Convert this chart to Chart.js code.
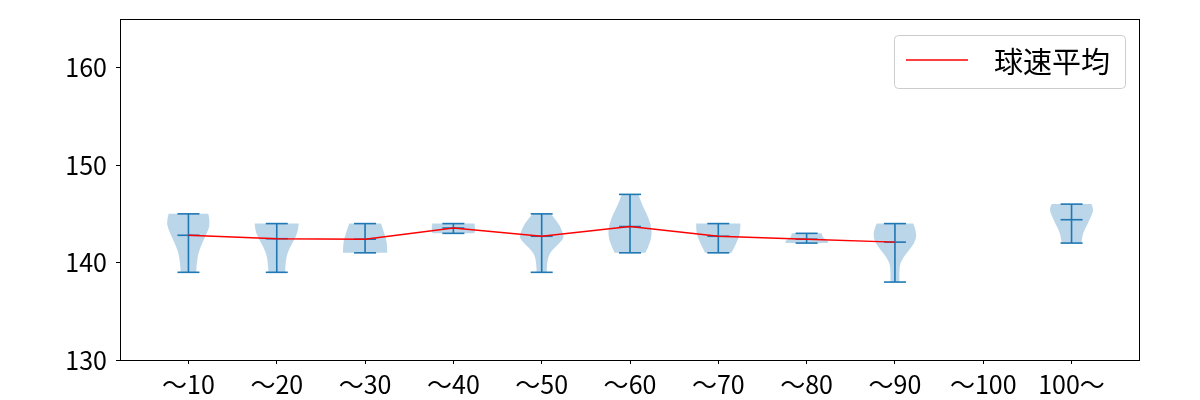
<!DOCTYPE html>
<html lang="ja">
<head>
<meta charset="utf-8">
<title>球速 violin</title>
<script src="https://cdn.jsdelivr.net/npm/chart.js"></script>
<style>
  html, body { margin: 0; padding: 0; background: #fff; }
</style>
</head>
<body>
<canvas id="chart" width="1200" height="400"></canvas>
<script>
const categories = ['～10', '～20', '～30', '～40', '～50', '～60', '～70', '～80', '～90', '～100', '100～'];
const speedMin  = [139, 139, 141, 143, 139, 141, 141, 142, 138, null, 142];
const speedMax  = [145, 144, 144, 144, 145, 147, 144, 143, 144, null, 146];
const speedMean = [142.8, 142.45, 142.4, 143.55, 142.7, 143.7, 142.7, 142.4, 142.1, null, 144.4];

// violin outline: speed levels (top to bottom) and relative half width at each level
const violinLevels = [
  [145, 144, 143, 142, 141, 140, 139],
  [144, 143, 142, 141, 140, 139],
  [144, 143, 142, 141],
  [144, 143.5, 143],
  [145, 144, 143, 142.5, 142, 141, 140, 139],
  [147, 146, 145, 144, 143, 142, 141],
  [144, 143, 142, 141],
  [143, 142.6, 142.2, 142],
  [144, 143, 142, 141, 140, 139, 138],
  [],
  [146, 145.5, 145, 144, 143, 142]
];
const violinWidths = [
  [0.9, 1.0, 0.83, 0.62, 0.45, 0.38, 0.35],
  [1.0, 0.95, 0.7, 0.48, 0.4, 0.38],
  [0.72, 0.87, 1.0, 1.0],
  [0.95, 1.0, 0.95],
  [0.41, 0.78, 0.97, 1.0, 0.8, 0.35, 0.24, 0.23],
  [0.38, 0.53, 0.76, 0.93, 1.0, 0.9, 0.7],
  [1.0, 1.0, 0.82, 0.6],
  [0.68, 0.7, 1.0, 0.95],
  [0.83, 1.0, 0.9, 0.53, 0.23, 0.2, 0.2],
  [],
  [0.9, 1.0, 0.93, 0.74, 0.5, 0.45]
];
const yTicks = [130, 140, 150, 160];

const BLUE = '#1f77b4';
const FONT = "'Noto Sans CJK JP', 'Noto Sans', sans-serif";
const HALF = 0.25; // half of violin width in x units

const positions = categories.map((c, i) => i + 1);

const rangeSegments = [];
const capPoints = [];
positions.forEach((x, i) => {
  if (speedMin[i] == null) return;
  rangeSegments.push({x, y: speedMin[i]}, {x, y: speedMax[i]}, {x, y: null});
  capPoints.push({x, y: speedMin[i]}, {x, y: speedMax[i]}, {x, y: speedMean[i]});
});
const meanLine = positions.map((x, i) => ({x, y: speedMean[i]}));

function smoothSide(ctx, pts, first) {
  if (first) ctx.moveTo(pts[0][0], pts[0][1]);
  else ctx.lineTo(pts[0][0], pts[0][1]);
  for (let k = 1; k < pts.length - 1; k++) {
    const mx = (pts[k][0] + pts[k + 1][0]) / 2;
    const my = (pts[k][1] + pts[k + 1][1]) / 2;
    ctx.quadraticCurveTo(pts[k][0], pts[k][1], mx, my);
  }
  const last = pts[pts.length - 1];
  ctx.lineTo(last[0], last[1]);
}

const violinBodies = {
  id: 'violinBodies',
  beforeDatasetsDraw(chart) {
    const {ctx, scales: {x, y}} = chart;
    ctx.save();
    ctx.fillStyle = 'rgba(31,119,180,0.3)';
    violinLevels.forEach((levels, i) => {
      if (!levels.length) return;
      const c = x.getPixelForValue(positions[i]);
      const right = levels.map((v, k) => [x.getPixelForValue(positions[i] + HALF * violinWidths[i][k]), y.getPixelForValue(v)]);
      const left = right.map(p => [2 * c - p[0], p[1]]).reverse();
      ctx.beginPath();
      smoothSide(ctx, right, true);
      smoothSide(ctx, left, false);
      ctx.closePath();
      ctx.fill();
    });
    ctx.restore();
  }
};

const frameAndLegend = {
  id: 'frameAndLegend',
  afterDraw(chart) {
    const {ctx, chartArea: a} = chart;
    ctx.save();
    ctx.strokeStyle = '#000';
    ctx.lineWidth = 1;
    ctx.strokeRect(Math.round(a.left) + 0.5, Math.round(a.top) + 0.5,
      Math.round(a.right - a.left) - 1, Math.round(a.bottom - a.top));

    const ds = chart.data.datasets[0];
    ctx.font = '29px ' + FONT;
    const tw = ctx.measureText(ds.label).width;
    const boxH = 53;
    const boxW = 12 + 62 + 26 + tw + 15;
    const boxR = a.right - 15;
    const boxT = a.top + 16;
    const boxL = boxR - boxW;
    ctx.beginPath();
    ctx.roundRect(boxL + 0.5, boxT + 0.5, boxW, boxH, 4);
    ctx.fillStyle = 'rgba(255,255,255,0.8)';
    ctx.fill();
    ctx.strokeStyle = '#cccccc';
    ctx.stroke();

    ctx.beginPath();
    ctx.moveTo(boxL + 12, boxT + 25);
    ctx.lineTo(boxL + 74, boxT + 25);
    ctx.strokeStyle = ds.borderColor;
    ctx.lineWidth = ds.borderWidth;
    ctx.stroke();

    ctx.fillStyle = '#000';
    ctx.textBaseline = 'middle';
    ctx.fillText(ds.label, boxL + 100, boxT + 27);
    ctx.restore();
  }
};

new Chart(document.getElementById('chart'), {
  type: 'line',
  data: {
    datasets: [
      {
        label: '球速平均',
        data: meanLine,
        borderColor: 'red',
        borderWidth: 1.4,
        pointRadius: 0,
        spanGaps: false,
        order: 0
      },
      {
        type: 'scatter',
        label: 'caps',
        data: capPoints,
        pointStyle: 'line',
        pointRadius: 11,
        borderColor: BLUE,
        borderWidth: 1.6,
        order: 1
      },
      {
        label: 'range',
        data: rangeSegments,
        borderColor: BLUE,
        borderWidth: 1.6,
        pointRadius: 0,
        spanGaps: false,
        order: 2
      }
    ]
  },
  options: {
    responsive: false,
    animation: false,
    devicePixelRatio: 1,
    events: [],
    layout: { padding: { left: 0, top: 19, right: 60, bottom: 0 } },
    plugins: { legend: { display: false }, tooltip: { enabled: false } },
    scales: {
      x: {
        type: 'linear',
        min: 0.225,
        max: 11.775,
        afterBuildTicks: s => { s.ticks = positions.map(v => ({value: v})); },
        afterFit: s => { s.height = 40; s.paddingLeft = 0; s.paddingRight = 0; },
        ticks: {
          callback: v => categories[Math.round(v) - 1],
          font: { family: FONT, size: 25 },
          color: '#000',
          padding: 5,
          maxRotation: 0,
          autoSkip: false
        },
        grid: { drawOnChartArea: false, color: '#000', tickLength: 4 },
        border: { display: false }
      },
      y: {
        type: 'linear',
        min: 130,
        max: 165,
        afterBuildTicks: s => { s.ticks = yTicks.map(v => ({value: v})); },
        afterFit: s => { s.width = 120; s.paddingTop = 0; s.paddingBottom = 0; },
        ticks: {
          font: { family: FONT, size: 25 },
          color: '#000',
          padding: 9
        },
        grid: { drawOnChartArea: false, color: '#000', tickLength: 4 },
        border: { display: false }
      }
    }
  },
  plugins: [violinBodies, frameAndLegend]
});
</script>
</body>
</html>
